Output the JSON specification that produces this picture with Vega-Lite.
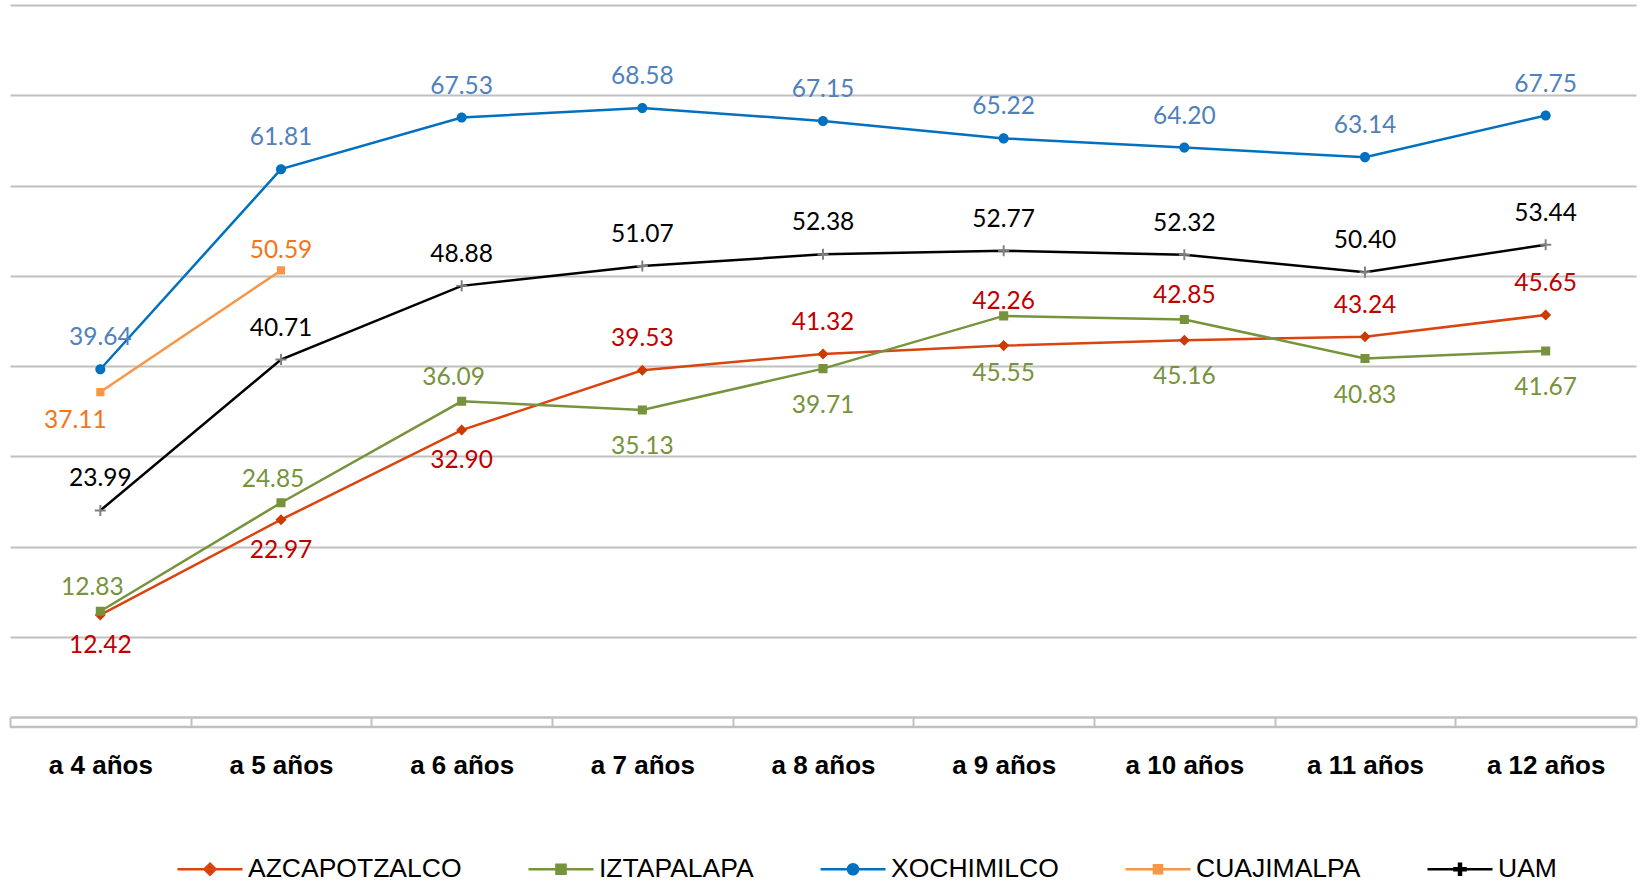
{
  "$schema": "https://vega.github.io/schema/vega-lite/v6.json",
  "width": 1626,
  "height": 722,
  "autosize": {"type": "none"},
  "padding": {"left": 10, "top": 5, "right": 4, "bottom": 155},
  "background": "white",
  "config": {"view": {"stroke": null}},
  "data": {"values": [
    {"age": "a 4 años", "series": "AZCAPOTZALCO", "value": 12.42},
    {"age": "a 5 años", "series": "AZCAPOTZALCO", "value": 22.97},
    {"age": "a 6 años", "series": "AZCAPOTZALCO", "value": 32.90},
    {"age": "a 7 años", "series": "AZCAPOTZALCO", "value": 39.53},
    {"age": "a 8 años", "series": "AZCAPOTZALCO", "value": 41.32},
    {"age": "a 9 años", "series": "AZCAPOTZALCO", "value": 42.26},
    {"age": "a 10 años", "series": "AZCAPOTZALCO", "value": 42.85},
    {"age": "a 11 años", "series": "AZCAPOTZALCO", "value": 43.24},
    {"age": "a 12 años", "series": "AZCAPOTZALCO", "value": 45.65},
    {"age": "a 4 años", "series": "IZTAPALAPA", "value": 12.83},
    {"age": "a 5 años", "series": "IZTAPALAPA", "value": 24.85},
    {"age": "a 6 años", "series": "IZTAPALAPA", "value": 36.09},
    {"age": "a 7 años", "series": "IZTAPALAPA", "value": 35.13},
    {"age": "a 8 años", "series": "IZTAPALAPA", "value": 39.71},
    {"age": "a 9 años", "series": "IZTAPALAPA", "value": 45.55},
    {"age": "a 10 años", "series": "IZTAPALAPA", "value": 45.16},
    {"age": "a 11 años", "series": "IZTAPALAPA", "value": 40.83},
    {"age": "a 12 años", "series": "IZTAPALAPA", "value": 41.67},
    {"age": "a 4 años", "series": "XOCHIMILCO", "value": 39.64},
    {"age": "a 5 años", "series": "XOCHIMILCO", "value": 61.81},
    {"age": "a 6 años", "series": "XOCHIMILCO", "value": 67.53},
    {"age": "a 7 años", "series": "XOCHIMILCO", "value": 68.58},
    {"age": "a 8 años", "series": "XOCHIMILCO", "value": 67.15},
    {"age": "a 9 años", "series": "XOCHIMILCO", "value": 65.22},
    {"age": "a 10 años", "series": "XOCHIMILCO", "value": 64.20},
    {"age": "a 11 años", "series": "XOCHIMILCO", "value": 63.14},
    {"age": "a 12 años", "series": "XOCHIMILCO", "value": 67.75},
    {"age": "a 4 años", "series": "CUAJIMALPA", "value": 37.11},
    {"age": "a 5 años", "series": "CUAJIMALPA", "value": 50.59},
    {"age": "a 4 años", "series": "UAM", "value": 23.99},
    {"age": "a 5 años", "series": "UAM", "value": 40.71},
    {"age": "a 6 años", "series": "UAM", "value": 48.88},
    {"age": "a 7 años", "series": "UAM", "value": 51.07},
    {"age": "a 8 años", "series": "UAM", "value": 52.38},
    {"age": "a 9 años", "series": "UAM", "value": 52.77},
    {"age": "a 10 años", "series": "UAM", "value": 52.32},
    {"age": "a 11 años", "series": "UAM", "value": 50.40},
    {"age": "a 12 años", "series": "UAM", "value": 53.44}
  ]},
  "layer": [
    {
      "data": {"values": [{}]},
      "mark": {"type": "rule", "color": "#C0C0C0", "strokeWidth": 2.5},
      "encoding": {"y": {"datum": 0, "type": "quantitative", "scale": {"domain": [0, 80], "nice": false}}}
    },
    {
      "mark": {"type": "line", "strokeWidth": 2.5},
      "encoding": {
        "x": {"field": "age", "type": "ordinal",
          "sort": ["a 4 años", "a 5 años", "a 6 años", "a 7 años", "a 8 años", "a 9 años", "a 10 años", "a 11 años", "a 12 años"],
          "scale": {"type": "band", "paddingInner": 0, "paddingOuter": 0},
          "axis": {"title": null, "orient": "bottom", "offset": -10, "domainColor": "#C0C0C0", "domainWidth": 2.5,
            "tickColor": "#C0C0C0", "tickWidth": 2, "tickSize": 10, "tickBand": "extent", "labelAngle": 0,
            "labelFont": "Liberation Sans", "labelFontWeight": "bold", "labelFontSize": 26, "labelColor": "#000000",
            "labelPadding": 25, "grid": false}},
        "y": {"field": "value", "type": "quantitative", "scale": {"domain": [0, 80], "nice": false},
          "axis": {"title": null, "domain": false, "ticks": false, "labels": false, "grid": true,
            "gridColor": "#C0C0C0", "gridWidth": 2, "values": [10, 20, 30, 40, 50, 60, 70, 80]}},
        "stroke": {"field": "series", "type": "nominal", "legend": null,
          "scale": {"domain": ["UAM", "CUAJIMALPA", "XOCHIMILCO", "IZTAPALAPA", "AZCAPOTZALCO"],
            "range": ["#000000", "#F79646", "#0070C0", "#77933C", "#D9440F"]}}
      }
    },
    {
      "mark": {"type": "point", "filled": true, "size": 4225, "strokeWidth": 0, "opacity": 1},
      "encoding": {
        "x": {"field": "age", "type": "ordinal",
          "sort": ["a 4 años", "a 5 años", "a 6 años", "a 7 años", "a 8 años", "a 9 años", "a 10 años", "a 11 años", "a 12 años"],
          "scale": {"type": "band", "paddingInner": 0, "paddingOuter": 0}},
        "y": {"field": "value", "type": "quantitative", "scale": {"domain": [0, 80], "nice": false}},
        "fill": {"field": "series", "type": "nominal",
          "scale": {"domain": ["AZCAPOTZALCO", "IZTAPALAPA", "XOCHIMILCO", "CUAJIMALPA", "UAM"],
            "range": ["#CC3A00", "#76923C", "#0070C0", "#F79646", "#808080"]},
          "legend": {"title": null, "orient": "none", "legendX": 166, "legendY": 830, "direction": "horizontal",
            "symbolSize": 4225, "symbolStrokeWidth": 2.5, "symbolOpacity": 1, "columnPadding": 61,
            "labelFont": "Liberation Sans", "labelFontSize": 26.5, "labelColor": "#000000", "labelOffset": 4, "labelLimit": 0,
            "encode": {"symbols": {"update": {"stroke": {"scale": "stroke", "field": "value"}, "strokeWidth": {"value": 2.5}}}}}},
        "shape": {"field": "series", "type": "nominal",
          "scale": {"domain": ["AZCAPOTZALCO", "IZTAPALAPA", "XOCHIMILCO", "CUAJIMALPA", "UAM"],
            "range": [
              "M-1,0H1M0,-0.17L0.17,0L0,0.17L-0.17,0Z",
              "M-1,0H1M-0.14,-0.14H0.14V0.14H-0.14Z",
              "M-1,0H1M-0.155,0A0.155,0.155,0,1,0,0.155,0A0.155,0.155,0,1,0,-0.155,0Z",
              "M-1,0H1M-0.125,-0.125H0.125V0.125H-0.125Z",
              "M-1,0H1M-0.03,-0.17H0.03V-0.03H0.17V0.03H0.03V0.17H-0.03V0.03H-0.17V-0.03H-0.03Z"
            ]}}
      }
    },
    {
      "transform": [{"filter": "datum.series == 'XOCHIMILCO' || datum.series == 'UAM' || (datum.series == 'AZCAPOTZALCO' && indexof(['a 7 años','a 8 años','a 11 años','a 12 años'], datum.age) >= 0)"}],
      "mark": {"type": "text", "font": "Lato", "fontSize": 24.5, "baseline": "middle", "align": "center", "dy": -31},
      "encoding": {
        "x": {"field": "age", "type": "ordinal",
          "sort": ["a 4 años", "a 5 años", "a 6 años", "a 7 años", "a 8 años", "a 9 años", "a 10 años", "a 11 años", "a 12 años"],
          "scale": {"type": "band", "paddingInner": 0, "paddingOuter": 0}},
        "y": {"field": "value", "type": "quantitative", "scale": {"domain": [0, 80], "nice": false}},
        "text": {"field": "value", "type": "quantitative", "format": ".2f"},
        "color": {"field": "series", "type": "nominal", "legend": null,
          "scale": {"domain": ["IZTAPALAPA", "AZCAPOTZALCO", "XOCHIMILCO", "CUAJIMALPA", "UAM"],
            "range": ["#77933C", "#C00000", "#4F81BD", "#F5731A", "#000000"]}}
      }
    },
    {
      "transform": [{"filter": "datum.series == 'IZTAPALAPA' && indexof(['a 4 años','a 5 años','a 6 años'], datum.age) >= 0"}],
      "mark": {"type": "text", "font": "Lato", "fontSize": 24.5, "baseline": "middle", "align": "center", "dy": -23, "dx": -8},
      "encoding": {
        "x": {"field": "age", "type": "ordinal",
          "sort": ["a 4 años", "a 5 años", "a 6 años", "a 7 años", "a 8 años", "a 9 años", "a 10 años", "a 11 años", "a 12 años"],
          "scale": {"type": "band", "paddingInner": 0, "paddingOuter": 0}},
        "y": {"field": "value", "type": "quantitative", "scale": {"domain": [0, 80], "nice": false}},
        "text": {"field": "value", "type": "quantitative", "format": ".2f"},
        "color": {"field": "series", "type": "nominal", "legend": null}
      }
    },
    {
      "transform": [{"filter": "datum.series == 'CUAJIMALPA' && datum.age == 'a 5 años'"}],
      "mark": {"type": "text", "font": "Lato", "fontSize": 24.5, "baseline": "middle", "align": "center", "dy": -19},
      "encoding": {
        "x": {"field": "age", "type": "ordinal",
          "sort": ["a 4 años", "a 5 años", "a 6 años", "a 7 años", "a 8 años", "a 9 años", "a 10 años", "a 11 años", "a 12 años"],
          "scale": {"type": "band", "paddingInner": 0, "paddingOuter": 0}},
        "y": {"field": "value", "type": "quantitative", "scale": {"domain": [0, 80], "nice": false}},
        "text": {"field": "value", "type": "quantitative", "format": ".2f"},
        "color": {"field": "series", "type": "nominal", "legend": null}
      }
    },
    {
      "transform": [{"filter": "datum.series == 'AZCAPOTZALCO' && indexof(['a 4 años','a 5 años','a 6 años'], datum.age) >= 0"}],
      "mark": {"type": "text", "font": "Lato", "fontSize": 24.5, "baseline": "middle", "align": "center", "dy": 31},
      "encoding": {
        "x": {"field": "age", "type": "ordinal",
          "sort": ["a 4 años", "a 5 años", "a 6 años", "a 7 años", "a 8 años", "a 9 años", "a 10 años", "a 11 años", "a 12 años"],
          "scale": {"type": "band", "paddingInner": 0, "paddingOuter": 0}},
        "y": {"field": "value", "type": "quantitative", "scale": {"domain": [0, 80], "nice": false}},
        "text": {"field": "value", "type": "quantitative", "format": ".2f"},
        "color": {"field": "series", "type": "nominal", "legend": null}
      }
    },
    {
      "transform": [{"filter": "datum.series == 'IZTAPALAPA' && indexof(['a 7 años','a 8 años','a 11 años','a 12 años'], datum.age) >= 0"}],
      "mark": {"type": "text", "font": "Lato", "fontSize": 24.5, "baseline": "middle", "align": "center", "dy": 37},
      "encoding": {
        "x": {"field": "age", "type": "ordinal",
          "sort": ["a 4 años", "a 5 años", "a 6 años", "a 7 años", "a 8 años", "a 9 años", "a 10 años", "a 11 años", "a 12 años"],
          "scale": {"type": "band", "paddingInner": 0, "paddingOuter": 0}},
        "y": {"field": "value", "type": "quantitative", "scale": {"domain": [0, 80], "nice": false}},
        "text": {"field": "value", "type": "quantitative", "format": ".2f"},
        "color": {"field": "series", "type": "nominal", "legend": null}
      }
    },
    {
      "transform": [{"filter": "datum.series == 'CUAJIMALPA' && datum.age == 'a 4 años'"}],
      "mark": {"type": "text", "font": "Lato", "fontSize": 24.5, "baseline": "middle", "align": "center", "dy": 29, "dx": -25},
      "encoding": {
        "x": {"field": "age", "type": "ordinal",
          "sort": ["a 4 años", "a 5 años", "a 6 años", "a 7 años", "a 8 años", "a 9 años", "a 10 años", "a 11 años", "a 12 años"],
          "scale": {"type": "band", "paddingInner": 0, "paddingOuter": 0}},
        "y": {"field": "value", "type": "quantitative", "scale": {"domain": [0, 80], "nice": false}},
        "text": {"field": "value", "type": "quantitative", "format": ".2f"},
        "color": {"field": "series", "type": "nominal", "legend": null}
      }
    },
    {
      "transform": [{"filter": "datum.series == 'AZCAPOTZALCO' && indexof(['a 9 años','a 10 años'], datum.age) >= 0"}],
      "mark": {"type": "text", "font": "Lato", "fontSize": 24.5, "baseline": "middle", "align": "center", "dy": -44},
      "encoding": {
        "x": {"field": "age", "type": "ordinal",
          "sort": ["a 4 años", "a 5 años", "a 6 años", "a 7 años", "a 8 años", "a 9 años", "a 10 años", "a 11 años", "a 12 años"],
          "scale": {"type": "band", "paddingInner": 0, "paddingOuter": 0}},
        "y": {"field": "value", "type": "quantitative", "scale": {"domain": [0, 80], "nice": false}},
        "text": {"field": "value", "type": "quantitative", "format": ".2f"},
        "color": {"field": "series", "type": "nominal", "legend": null}
      }
    },
    {
      "transform": [{"filter": "datum.series == 'IZTAPALAPA' && indexof(['a 9 años','a 10 años'], datum.age) >= 0"}],
      "mark": {"type": "text", "font": "Lato", "fontSize": 24.5, "baseline": "middle", "align": "center", "dy": 58},
      "encoding": {
        "x": {"field": "age", "type": "ordinal",
          "sort": ["a 4 años", "a 5 años", "a 6 años", "a 7 años", "a 8 años", "a 9 años", "a 10 años", "a 11 años", "a 12 años"],
          "scale": {"type": "band", "paddingInner": 0, "paddingOuter": 0}},
        "y": {"field": "value", "type": "quantitative", "scale": {"domain": [0, 80], "nice": false}},
        "text": {"field": "value", "type": "quantitative", "format": ".2f"},
        "color": {"field": "series", "type": "nominal", "legend": null}
      }
    }
  ]
}
